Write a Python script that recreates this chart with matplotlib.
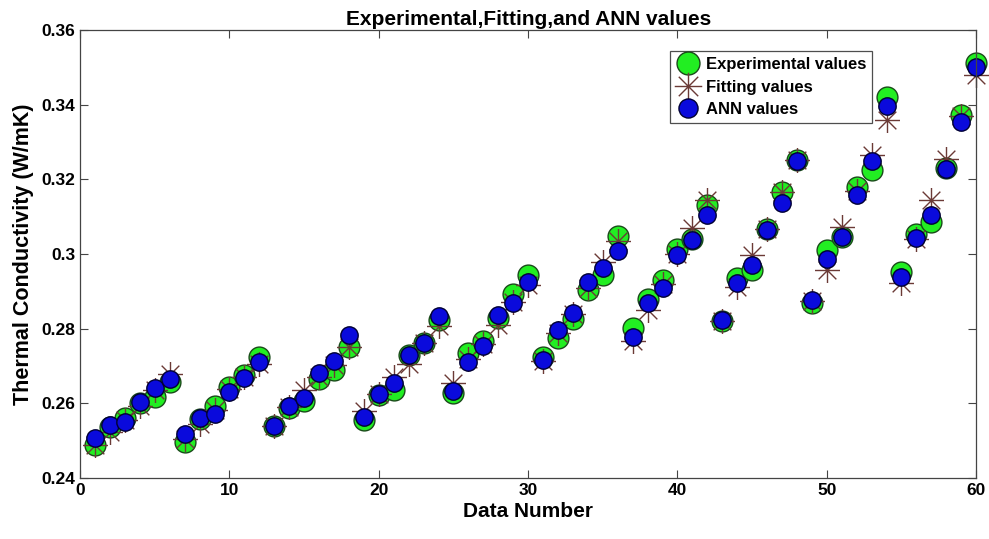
import matplotlib.pyplot as plt
import matplotlib.path as mpath

plt.rcParams['font.family'] = ['Liberation Sans', 'DejaVu Sans']
plt.rcParams['font.weight'] = 'bold'

data_number = list(range(1, 61))

experimental = [0.2488, 0.2538, 0.2560, 0.2600, 0.2618, 0.2658,
                0.2497, 0.2557, 0.2593, 0.2643, 0.2676, 0.2725,
                0.2540, 0.2587, 0.2606, 0.2666, 0.2689, 0.2752,
                0.2555, 0.2623, 0.2636, 0.2729, 0.2763, 0.2823,
                0.2629, 0.2734, 0.2766, 0.2828, 0.2893, 0.2944,
                0.2725, 0.2774, 0.2825, 0.2905, 0.2944, 0.3048,
                0.2801, 0.2881, 0.2930, 0.3015, 0.3040, 0.3131,
                0.2820, 0.2935, 0.2957, 0.3068, 0.3167, 0.3251,
                0.2868, 0.3011, 0.3047, 0.3180, 0.3225, 0.3420,
                0.2953, 0.3055, 0.3087, 0.3230, 0.3372, 0.3511]

fitting = [0.2488, 0.2524, 0.2555, 0.2592, 0.2635, 0.2679,
           0.2505, 0.2545, 0.2582, 0.2640, 0.2672, 0.2705,
           0.2540, 0.2590, 0.2635, 0.2672, 0.2702, 0.2752,
           0.2580, 0.2625, 0.2671, 0.2705, 0.2762, 0.2807,
           0.2655, 0.2720, 0.2760, 0.2810, 0.2872, 0.2917,
           0.2715, 0.2790, 0.2840, 0.2910, 0.2980, 0.3035,
           0.2766, 0.2850, 0.2920, 0.3000, 0.3069, 0.3145,
           0.2822, 0.2912, 0.2997, 0.3068, 0.3167, 0.3251,
           0.2875, 0.2957, 0.3073, 0.3170, 0.3265, 0.3359,
           0.2923, 0.3040, 0.3145, 0.3254, 0.3370, 0.3480]

ann = [0.2507, 0.2542, 0.2551, 0.2604, 0.2642, 0.2665,
       0.2518, 0.2560, 0.2573, 0.2631, 0.2667, 0.2712,
       0.2540, 0.2592, 0.2614, 0.2682, 0.2714, 0.2783,
       0.2563, 0.2625, 0.2654, 0.2729, 0.2761, 0.2834,
       0.2634, 0.2712, 0.2754, 0.2837, 0.2868, 0.2926,
       0.2716, 0.2796, 0.2843, 0.2926, 0.2962, 0.3009,
       0.2777, 0.2868, 0.2908, 0.2997, 0.3038, 0.3106,
       0.2823, 0.2922, 0.2971, 0.3066, 0.3136, 0.3249,
       0.2877, 0.2986, 0.3047, 0.3158, 0.3250, 0.3397,
       0.2939, 0.3042, 0.3104, 0.3228, 0.3355, 0.3502]

y_ticks = [0.24, 0.26, 0.28, 0.3, 0.32, 0.34, 0.36]
y_tick_labels = ['0.24', '0.26', '0.28', '0.3', '0.32', '0.34', '0.36']
x_ticks = [0, 10, 20, 30, 40, 50, 60]

# 8-armed asterisk like matlab '*'
verts = []
codes = []
for a in [(0, 1), (1, 0), (0.707, 0.707), (0.707, -0.707)]:
    verts += [(-a[0], -a[1]), (a[0], a[1])]
    codes += [mpath.Path.MOVETO, mpath.Path.LINETO]
star = mpath.Path(verts, codes)

fig = plt.figure(figsize=(9.89, 5.39), dpi=100)
ax = fig.add_axes([0.081, 0.113, 0.906, 0.831])

ax.plot(data_number, experimental, linestyle='none', marker='o', markersize=15,
        markerfacecolor='#22ee22', markeredgecolor='#1a4a1a', markeredgewidth=1.0,
        label='Experimental values', clip_on=False)
ax.plot(data_number, fitting, linestyle='none', marker=star, markersize=18,
        markeredgecolor='#6b3a36', markerfacecolor='none', markeredgewidth=1.0,
        label='Fitting values', clip_on=False)
ax.plot(data_number, ann, linestyle='none', marker='o', markersize=12.5,
        markerfacecolor='#0a0adc', markeredgecolor='#000033', markeredgewidth=1.0,
        label='ANN values', clip_on=False)

ax.set_xlim(0, 60)
ax.set_ylim(0.24, 0.36)
ax.set_xticks(x_ticks)
ax.set_yticks(y_ticks)
ax.set_yticklabels(y_tick_labels)
ax.tick_params(direction='in', top=True, right=True, length=6, width=0.8,
               labelsize=12.5, color='#444444')
for lbl in ax.get_xticklabels() + ax.get_yticklabels():
    lbl.set_fontweight('bold')
for sp in ax.spines.values():
    sp.set_color('#444444')
    sp.set_linewidth(0.9)

ax.set_title('Experimental,Fitting,and ANN values', fontsize=15, fontweight='bold', pad=4)
ax.set_xlabel('Data Number', fontsize=15, fontweight='bold', labelpad=3)
ax.set_ylabel('Thermal Conductivity (W/mK)', fontsize=15.5, fontweight='bold', labelpad=5)

leg = ax.legend(loc='upper right', bbox_to_anchor=(0.884, 0.953), fontsize=12,
                frameon=True, fancybox=False, edgecolor='#222222',
                handlelength=1.5, handletextpad=0.3, borderpad=0.35,
                labelspacing=0.45, borderaxespad=0, markerscale=1.1)
leg.get_frame().set_linewidth(0.9)
for t in leg.get_texts():
    t.set_fontweight('bold')

fig.savefig('out.png', dpi=100)
